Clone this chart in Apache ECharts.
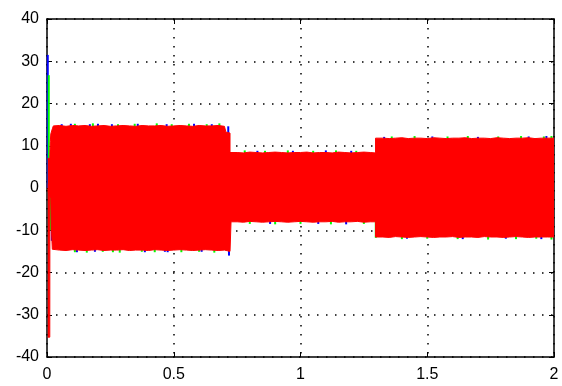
<!DOCTYPE html>
<html>
<head>
<meta charset="utf-8">
<script src="https://cdn.jsdelivr.net/npm/echarts@6/dist/echarts.min.js"></script>
<style>
  html, body { margin: 0; padding: 0; background: #fff; }
  #main { width: 562px; height: 386px; }
</style>
</head>
<body>
<div id="main"></div>
<script>
// envelope of the red phase (time in s, value at the peaks)
var times = [0.003, 0.011, 0.0115, 0.013, 0.015, 0.018, 0.021, 0.025,
    0.05, 0.075, 0.1, 0.125, 0.15, 0.175, 0.2, 0.225, 0.25, 0.275, 0.3, 0.325, 0.35, 0.375,
    0.4, 0.425, 0.45, 0.475, 0.5, 0.525, 0.55, 0.575, 0.6, 0.625, 0.65, 0.675, 0.7,
    0.706, 0.722, 0.722, 0.726, 0.726,
    0.75, 0.775, 0.8, 0.825, 0.85, 0.875, 0.9, 0.925, 0.95, 0.975, 1, 1.025, 1.05, 1.075,
    1.1, 1.125, 1.15, 1.175, 1.2, 1.225, 1.25, 1.275,
    1.296, 1.296,
    1.325, 1.35, 1.375, 1.4, 1.425, 1.45, 1.475, 1.5, 1.525, 1.55, 1.575, 1.6, 1.625, 1.65,
    1.675, 1.7, 1.725, 1.75, 1.775, 1.8, 1.825, 1.85, 1.875, 1.9, 1.925, 1.95, 1.975, 2];

var redUpper = [7, 7, 8, 11, 12.8, 13, 14, 14.7,
    14.8, 14.6, 14.8, 14.7, 14.8, 14.6, 14.7, 14.8, 14.6, 14.7, 14.8, 14.7, 14.6, 14.8,
    14.7, 14.7, 14.8, 14.6, 14.7, 14.8, 14.7, 14.6, 14.8, 14.7, 14.7, 14.8, 14.6,
    13.2, 13, 8.4, 8.4, 8.4,
    8.4, 8.3, 8.5, 8.4, 8.3, 8.4, 8.5, 8.4, 8.3, 8.4, 8.4, 8.5, 8.3, 8.4,
    8.4, 8.3, 8.5, 8.4, 8.3, 8.4, 8.5, 8.4,
    8.3, 11.8,
    11.8, 11.7, 11.8, 11.9, 11.7, 11.8, 11.8, 11.7, 11.9, 11.8, 11.7, 11.8, 11.8, 11.9,
    11.7, 11.8, 11.8, 11.7, 11.9, 11.8, 11.7, 11.8, 11.8, 11.9, 11.7, 11.8, 11.8, 11.8];

var redLower = [-35.3, -35.3, -2, -2.2, -2.5, -10.5, -14.5, -14.8,
    -14.7, -14.8, -14.6, -14.7, -14.8, -14.7, -14.6, -14.8, -14.7, -14.7, -14.6, -14.8, -14.7, -14.7,
    -14.8, -14.6, -14.7, -14.8, -14.7, -14.6, -14.7, -14.8, -14.7, -14.6, -14.7, -14.8, -14.7,
    -14.8, -15, -15, -15, -8,
    -8, -8.1, -7.9, -8, -8.1, -8, -7.9, -8, -8.1, -8, -7.9, -8, -8.1, -8,
    -8, -7.9, -8.1, -8, -8, -7.9, -8.1, -8,
    -8, -11.6,
    -11.6, -11.7, -11.5, -11.6, -11.7, -11.6, -11.5, -11.6, -11.7, -11.6, -11.6, -11.5, -11.7, -11.6,
    -11.6, -11.7, -11.5, -11.6, -11.6, -11.7, -11.6, -11.5, -11.6, -11.7, -11.6, -11.6, -11.6, -11.6];

// green and blue peaks that stick out past the red band
var greenT = [0.007, 0.014, 0.11, 0.181, 0.28, 0.346, 0.433, 0.492, 0.56, 0.63, 0.68,
    0.11, 0.157, 0.22, 0.26, 0.287, 0.374, 0.425, 0.53, 0.6, 0.66,
    0.78, 0.86, 0.95, 1.05, 1.14, 1.22, 0.8, 0.9, 1.0, 1.12, 1.25,
    1.297, 1.36, 1.45, 1.58, 1.66, 1.78, 1.87, 1.96, 1.99,
    1.4, 1.5, 1.62, 1.74, 1.85, 1.93, 1.99];
var greenV = [26.7, -10, 15.2, 15.3, 15.1, 15.2, 15.3, 15.1, 15.2, 15.1, 15.3,
    -15.2, -15.3, -15.1, -15.2, -15.3, -15.1, -15.2, -15.2, -15.1, -15.3,
    8.9, 8.8, 8.9, 8.8, 8.9, 8.8, -8.5, -8.6, -8.5, -8.6, -8.5,
    -11.8, 12.2, 12.3, 12.2, 12.3, 12.2, 12.3, 12.2, 12.3,
    -12.1, -12.0, -12.1, -12.2, -12.1, -12.0, -12.2];

var blueT = [0.003, 0.019, 0.058, 0.094, 0.169, 0.201, 0.256, 0.358, 0.472, 0.58, 0.65,
    0.118, 0.189, 0.386, 0.465, 0.476, 0.61, 0.715, 0.718,
    0.83, 0.97, 1.1, 1.2, 0.88, 1.07, 1.18,
    1.33, 1.52, 1.7, 1.9, 1.97, 1.42, 1.64, 1.81, 1.95];
var blueV = [31.5, -12.5, 15.1, 15.2, 15.1, 15.2, 15.1, 15.2, 15.1, 15.2, 15.1,
    -15.2, -15.1, -15.2, -15.1, -15.2, -15.1, 14.6, -16,
    8.8, 8.8, 8.9, 8.8, -8.5, -8.5, -8.6,
    12.1, 12.2, 12.1, 12.2, 12.3, -12.0, -12.1, -12.0, -12.1];

var xTicks = ['0', '0.5', '1', '1.5', '2'];

function pairs(xs, ys) {
    return xs.map(function (x, i) { return [x, ys[i]]; });
}

var myChart = echarts.init(document.getElementById('main'));

var labelFont = {
    color: '#000',
    fontSize: 16,
    fontFamily: 'Liberation Sans, Arial, sans-serif'
};
var dotted = {
    show: true,
    lineStyle: { color: '#000', width: 1.5, type: [1.5, 7.5] }
};
var border = { show: true, onZero: false, lineStyle: { color: '#000', width: 1.5 } };
var ticks = { show: true, inside: true, length: 5, lineStyle: { color: '#000' } };

myChart.setOption({
    animation: false,
    grid: { left: 47, right: 8, top: 19, bottom: 29 },
    xAxis: [{
        type: 'value',
        min: 0, max: 2, interval: 0.5,
        axisLine: border,
        axisTick: ticks,
        axisLabel: Object.assign({ margin: 10, formatter: function (v) { return xTicks[Math.round(v * 2)]; } }, labelFont),
        splitLine: dotted
    }, {
        type: 'value', position: 'top',
        min: 0, max: 2, interval: 0.5,
        axisLine: border,
        axisTick: ticks,
        axisLabel: { show: false },
        splitLine: { show: false }
    }],
    yAxis: [{
        type: 'value',
        min: -40, max: 40, interval: 10,
        axisLine: border,
        axisTick: ticks,
        axisLabel: Object.assign({ margin: 8 }, labelFont),
        splitLine: dotted
    }, {
        type: 'value', position: 'right',
        min: -40, max: 40, interval: 10,
        axisLine: border,
        axisTick: ticks,
        axisLabel: { show: false },
        splitLine: { show: false }
    }],
    series: [{
        name: 'blue',
        type: 'bar',
        barWidth: 2,
        barGap: '-100%',
        z: 2,
        itemStyle: { color: '#0000ff' },
        data: pairs(blueT, blueV)
    }, {
        name: 'green',
        type: 'bar',
        barWidth: 2,
        barGap: '-100%',
        z: 2,
        itemStyle: { color: '#00ff00' },
        data: pairs(greenT, greenV)
    }, {
        name: 'red upper',
        type: 'line',
        z: 3,
        showSymbol: false,
        lineStyle: { color: '#ff0000', width: 1 },
        areaStyle: { color: '#ff0000', opacity: 1, origin: -1 },
        data: pairs(times, redUpper)
    }, {
        name: 'red lower',
        type: 'line',
        z: 3,
        showSymbol: false,
        lineStyle: { color: '#ff0000', width: 1 },
        areaStyle: { color: '#ff0000', opacity: 1, origin: 1 },
        data: pairs(times, redLower)
    }]
});
</script>
</body>
</html>
